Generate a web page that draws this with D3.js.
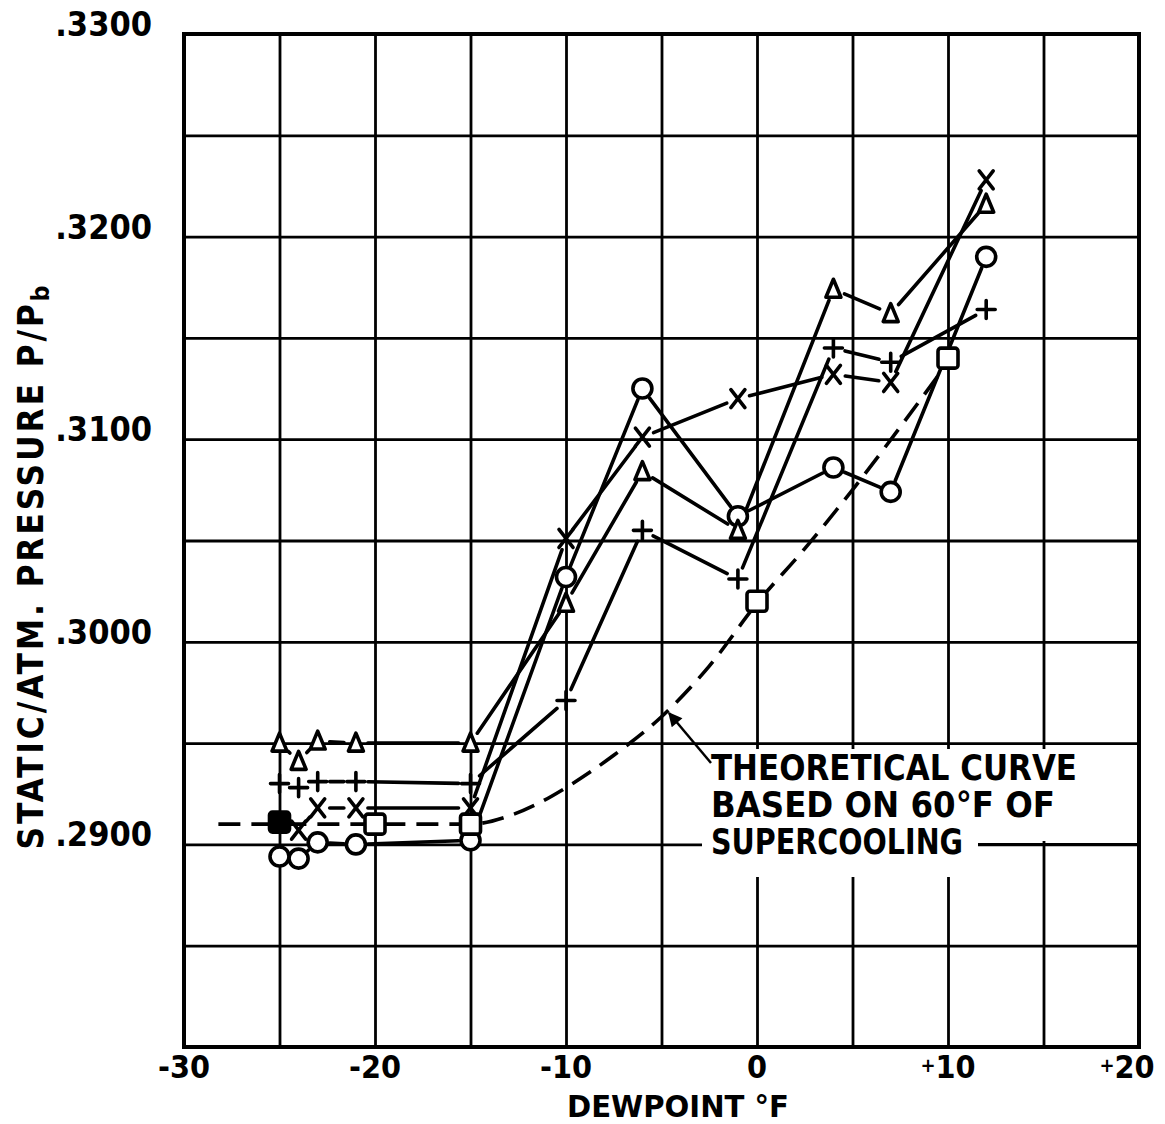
<!DOCTYPE html>
<html lang="en">
<head>
  <meta charset="utf-8">
  <title>Static/atm. pressure vs dewpoint</title>
  <script src="https://cdn.jsdelivr.net/npm/d3@7"></script>
  <style>
    body {
      margin: 0;
      background: #fff;
    }

    svg {
      display: block;
    }

    text {
      font-family: "DejaVu Sans Condensed", "DejaVu Sans", sans-serif;
      font-weight: bold;
      fill: #000;
    }

    .grid line {
      stroke: #000;
      stroke-width: 2.8;
    }

    .grid path {
      display: none;
    }

    .series line, .marks path, .marks circle, .marks rect {
      stroke: #000;
      stroke-width: 3.6;
      stroke-linecap: round;
      stroke-linejoin: round;
    }
  </style>
</head>
<body>
<svg width="1165" height="1124"></svg>
<script>

// dewpoint (deg F) and P/Pb, one pair of arrays per symbol
var circleX = [-25, -24, -23, -21, -15, -10, -6, -1, 4, 7, 12];
var circleY = [.2894, .2893, .2901, .2900, .2902, .3032, .3125, .3062, .3086, .3074, .3190];

var triX = [-25, -24, -23, -21, -15, -10, -6, -1, 4, 7, 12];
var triY = [.2950, .2941, .2951, .2950, .2950, .3019, .3084, .3055, .3174, .3162, .3216];

var plusX = [-25, -24, -23, -21, -15, -10, -6, -1, 4, 7, 12];
var plusY = [.2930, .2928, .2931, .2931, .2930, .2971, .3055, .3031, .3145, .3138, .3164];

var crossX = [-24, -23, -21, -15, -10, -6, -1, 4, 7, 12];
var crossY = [.2907, .2918, .2918, .2918, .3051, .3101, .3120, .3132, .3128, .3228];

var squareX = [-25, -20, -15, 0, 10];
var squareY = [.2911, .2910, .2910, .3020, .3140];

// theoretical curve, 60 F of supercooling (dashed)
var theoryX = [-28.2, -15, -13, -11.5, -10, -7.5, -5, -2.5, 0, 2.5, 5, 7.5, 10];
var theoryY = [.2910, .2910, .2914, .2920, .2928, .2944, .2963, .2988, .3019, .3046, .3075, .3106, .3138];

var xGrid = d3.range(-30, 21, 5);
var yGrid = d3.range(0.28, 0.3301, 0.005);
var xLabels = [-30, -20, -10, 0, 10, 20];
var yLabels = [.33, .32, .31, .30, .29];

var noteLines = ["THEORETICAL CURVE", "BASED ON 60\u00B0F OF", "SUPERCOOLING"];

var svg = d3.select("svg");

var x = d3.scaleLinear().domain([-30, 20]).range([184, 1139]);
var y = d3.scaleLinear().domain([0.28, 0.33]).range([1047, 34]);

// grid
svg.append("g")
    .attr("class", "grid")
    .attr("transform", "translate(0," + y(0.28) + ")")
    .call(d3.axisBottom(x).tickValues(xGrid).tickSize(-(y(0.28) - y(0.33))).tickFormat(""));

svg.append("g")
    .attr("class", "grid")
    .attr("transform", "translate(" + x(-30) + ",0)")
    .call(d3.axisLeft(y).tickValues(yGrid).tickSize(-(x(20) - x(-30))).tickFormat(""));

// the note sits on a blank patch of the grid
svg.append("rect")
    .attr("x", 702).attr("y", 749)
    .attr("width", 276).attr("height", 128)
    .attr("fill", "#fff");
svg.append("rect")
    .attr("x", 978).attr("y", 749)
    .attr("width", 108).attr("height", 92)
    .attr("fill", "#fff");

svg.append("rect")
    .attr("x", x(-30)).attr("y", y(0.33))
    .attr("width", x(20) - x(-30))
    .attr("height", y(0.28) - y(0.33))
    .attr("fill", "none")
    .attr("stroke", "#000")
    .attr("stroke-width", 4);

// tick labels
svg.append("g").selectAll("text")
    .data(yLabels)
    .enter().append("text")
      .attr("x", 152)
      .attr("y", function(d) { return y(d) - 10; })
      .attr("text-anchor", "end")
      .attr("dominant-baseline", "central")
      .attr("font-size", 34)
      .text(function(d) { return d3.format(".4f")(d).replace(/^0/, ""); });

var xl = svg.append("g").selectAll("text")
    .data(xLabels)
    .enter().append("text")
      .attr("x", function(d) { return d === 20 ? x(d) - 12 : x(d); })
      .attr("y", 1067)
      .attr("text-anchor", "middle")
      .attr("dominant-baseline", "central")
      .attr("font-size", 32);
xl.filter(function(d) { return d > 0; })
    .append("tspan").attr("font-size", 20).attr("dy", -2).text("+");
xl.append("tspan")
    .attr("dy", function(d) { return d > 0 ? 2 : 0; })
    .text(function(d) { return String(d); });

// axis titles
svg.append("text")
    .attr("x", 678)
    .attr("y", 1106)
    .attr("text-anchor", "middle")
    .attr("dominant-baseline", "central")
    .attr("font-size", 30)
    .attr("textLength", 222)
    .attr("lengthAdjust", "spacingAndGlyphs")
    .text("DEWPOINT \u00B0F");

var yt = svg.append("text")
    .attr("transform", "translate(31,566) rotate(-90)")
    .attr("text-anchor", "middle")
    .attr("dominant-baseline", "central")
    .attr("font-size", 35)
    .attr("letter-spacing", 2.8);
yt.append("tspan").text("STATIC/ATM. PRESSURE  P/P");
yt.append("tspan").attr("font-size", 25).attr("dy", 9).text("b");

// theoretical curve
var theory = theoryX.map(function(d, i) { return [d, theoryY[i]]; });

svg.append("path")
    .datum(theory)
    .attr("fill", "none")
    .attr("stroke", "#000")
    .attr("stroke-width", 3.6)
    .attr("stroke-dasharray", "22,11")
    .attr("d", d3.line()
      .x(function(d) { return x(d[0]); })
      .y(function(d) { return y(d[1]); })
      .curve(d3.curveMonotoneX));

// lines between test points stop short of each symbol
function segments(xs, ys, gap) {
  var out = [];
  for (var i = 1; i < xs.length; i++) {
    var x1 = x(xs[i - 1]), y1 = y(ys[i - 1]), x2 = x(xs[i]), y2 = y(ys[i]);
    var len = Math.hypot(x2 - x1, y2 - y1);
    if (len <= 2 * gap) continue;
    var ux = (x2 - x1) / len, uy = (y2 - y1) / len;
    out.push({ x1: x1 + ux * gap, y1: y1 + uy * gap, x2: x2 - ux * gap, y2: y2 - uy * gap });
  }
  return out;
}

var series = [[circleX, circleY], [triX, triY], [plusX, plusY], [crossX, crossY]];

series.forEach(function(s) {
  svg.append("g")
      .attr("class", "series")
    .selectAll("line")
    .data(segments(s[0], s[1], 12))
    .enter().append("line")
      .attr("x1", function(d) { return d.x1; })
      .attr("y1", function(d) { return d.y1; })
      .attr("x2", function(d) { return d.x2; })
      .attr("y2", function(d) { return d.y2; });
});

// symbols
var marks = svg.append("g").attr("class", "marks");

marks.selectAll("circle")
    .data(d3.zip(circleX, circleY))
    .enter().append("circle")
      .attr("cx", function(d) { return x(d[0]); })
      .attr("cy", function(d) { return y(d[1]); })
      .attr("r", 9.5)
      .attr("fill", "#fff");

marks.selectAll("path.tri")
    .data(d3.zip(triX, triY))
    .enter().append("path")
      .attr("class", "tri")
      .attr("fill", "#fff")
      .attr("stroke-width", 4.2)
      .attr("d", function(d) {
        var cx = x(d[0]), cy = y(d[1]);
        return "M" + cx + "," + (cy - 10) + "L" + (cx + 7.5) + "," + (cy + 8) +
               "L" + (cx - 7.5) + "," + (cy + 8) + "Z";
      });

marks.selectAll("path.plus")
    .data(d3.zip(plusX, plusY))
    .enter().append("path")
      .attr("class", "plus")
      .attr("fill", "none")
      .attr("stroke-width", 4)
      .attr("d", function(d) {
        var cx = x(d[0]), cy = y(d[1]);
        return "M" + (cx - 9) + "," + cy + "H" + (cx + 9) + "M" + cx + "," + (cy - 9) + "V" + (cy + 9);
      });

marks.selectAll("path.cross")
    .data(d3.zip(crossX, crossY))
    .enter().append("path")
      .attr("class", "cross")
      .attr("fill", "none")
      .attr("stroke-width", 4.2)
      .attr("d", function(d) {
        var cx = x(d[0]), cy = y(d[1]);
        return "M" + (cx - 7) + "," + (cy - 9) + "L" + (cx + 7) + "," + (cy + 9) +
               "M" + (cx + 7) + "," + (cy - 9) + "L" + (cx - 7) + "," + (cy + 9);
      });

marks.selectAll("rect")
    .data(d3.zip(squareX, squareY))
    .enter().append("rect")
      .attr("x", function(d) { return x(d[0]) - 10; })
      .attr("y", function(d) { return y(d[1]) - 10; })
      .attr("width", 20)
      .attr("height", 20)
      .attr("rx", 3)
      .attr("fill", function(d, i) { return i === 0 ? "#000" : "#fff"; });

// note and arrow
svg.append("defs").append("marker")
    .attr("id", "head")
    .attr("viewBox", "0 0 10 10")
    .attr("refX", 9).attr("refY", 5)
    .attr("markerWidth", 20).attr("markerHeight", 14)
    .attr("markerUnits", "userSpaceOnUse")
    .attr("orient", "auto")
  .append("path")
    .attr("d", "M0,0L10,5L0,10Z")
    .attr("fill", "#000");

svg.append("line")
    .attr("x1", 711).attr("y1", 763)
    .attr("x2", 669).attr("y2", 713)
    .attr("stroke", "#000")
    .attr("stroke-width", 2.5)
    .attr("marker-end", "url(#head)");

svg.append("g").selectAll("text")
    .data(noteLines)
    .enter().append("text")
      .attr("x", 711)
      .attr("y", function(d, i) { return 768 + i * 37; })
      .attr("dominant-baseline", "central")
      .attr("font-size", 35)
      .attr("textLength", function(d, i) { return [366, 344, 252][i]; })
      .attr("lengthAdjust", "spacingAndGlyphs")
      .text(function(d) { return d; });

// short rule after SUPERCOOLING
svg.append("line")
    .attr("x1", 978).attr("y1", y(0.29))
    .attr("x2", x(20)).attr("y2", y(0.29))
    .attr("stroke", "#000").attr("stroke-width", 2.8);

</script>
</body>
</html>
